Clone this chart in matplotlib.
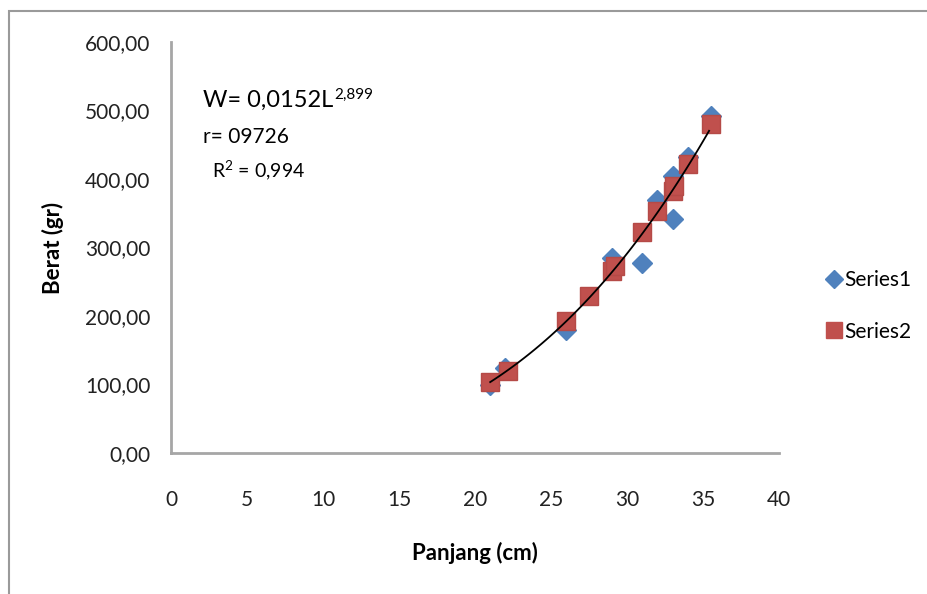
import numpy as np
import matplotlib.pyplot as plt
from matplotlib.lines import Line2D
from matplotlib.patches import Rectangle

plt.rcParams['font.family'] = ['Lato', 'DejaVu Sans']
plt.rcParams['mathtext.fontset'] = 'custom'
plt.rcParams['mathtext.rm'] = 'Lato'

# data
s1_x = [21, 22, 26, 29, 31, 32, 33, 33, 34, 35.5]
s1_y = [100, 124, 180, 285, 278, 370, 342, 405, 432, 492]
s2_x = [21, 22.2, 26, 27.5, 29, 29.2, 31, 32, 33, 33.1, 34, 35.5]
s2_y = [103, 120, 192, 229, 265, 273, 322, 353, 382, 390, 422, 480]
fit_a, fit_b = 0.0152, 2.899
xticks = [0, 5, 10, 15, 20, 25, 30, 35, 40]
yticks = [0, 100, 200, 300, 400, 500, 600]

fig = plt.figure(figsize=(9.28, 5.94), dpi=100)
ax = fig.add_axes([171/928, 1-453/594, (779-171)/928, (453-42)/594])

blue = '#4F81BD'
red = '#C0504D'
ax.plot(s1_x, s1_y, 'D', color=blue, ms=10.5, mec=blue, ls='none', zorder=3)
ax.plot(s2_x, s2_y, 's', color=red, ms=12.5, mec='#B54A47', ls='none', zorder=4)

xx = np.linspace(21, 35.4, 100)
ax.plot(xx, fit_a * xx ** fit_b, color='black', lw=1.3, zorder=5)

ax.set_xlim(0, 40)
ax.set_ylim(0, 600)
ax.set_xticks(xticks)
ax.set_yticks(yticks)
ax.set_yticklabels([f"{v},00" for v in yticks])
ax.tick_params(length=0, labelsize=15, colors='#222222')
ax.tick_params(axis='x', pad=27)
ax.tick_params(axis='y', pad=15)
for s in ['top', 'right']:
    ax.spines[s].set_visible(False)
for s in ['left', 'bottom']:
    ax.spines[s].set_color('#A6A6A6')
    ax.spines[s].set_linewidth(2)

ax.set_xlabel('Panjang (cm)', fontsize=16, fontweight='bold')
ax.set_ylabel('Berat (gr)', fontsize=16, fontweight='bold')
ax.xaxis.set_label_coords(0.5, (453-542)/411)
ax.yaxis.set_label_coords((64-171)/608, 0.5)

# trendline equation
t = ax.text(203/928, 1-100/594, 'W= 0,0152L', transform=fig.transFigure,
            fontsize=17, va='center', ha='left')
ax.annotate('2,899', xy=(1, 1), xycoords=t, xytext=(1, 1), textcoords='offset points',
            fontsize=11, va='top', ha='left')
ax.text(203/928, 1-137/594, 'r= 09726', transform=fig.transFigure, fontsize=15, va='center')
ax.text(212/928, 1-171/594, r'R$^{2}$ = 0,994', transform=fig.transFigure,
        fontsize=14, va='center')

handles = [Line2D([], [], marker='D', color=blue, ls='none', ms=9),
           Line2D([], [], marker='s', color=red, ls='none', ms=11)]
fig.legend(handles, ['Series1', 'Series2'], loc='center left', bbox_to_anchor=(805/928, 1-306/594),
           frameon=False, fontsize=15, handletextpad=0.0, labelspacing=1.5, handlelength=1)

# outer chart frame
fig.patches.append(Rectangle((9/928, -0.05), 1.1, 1 - 11/594 + 0.05, transform=fig.transFigure,
                             fill=False, ec='#9A9A9A', lw=1.5))

fig.savefig('out.png', dpi=100)
